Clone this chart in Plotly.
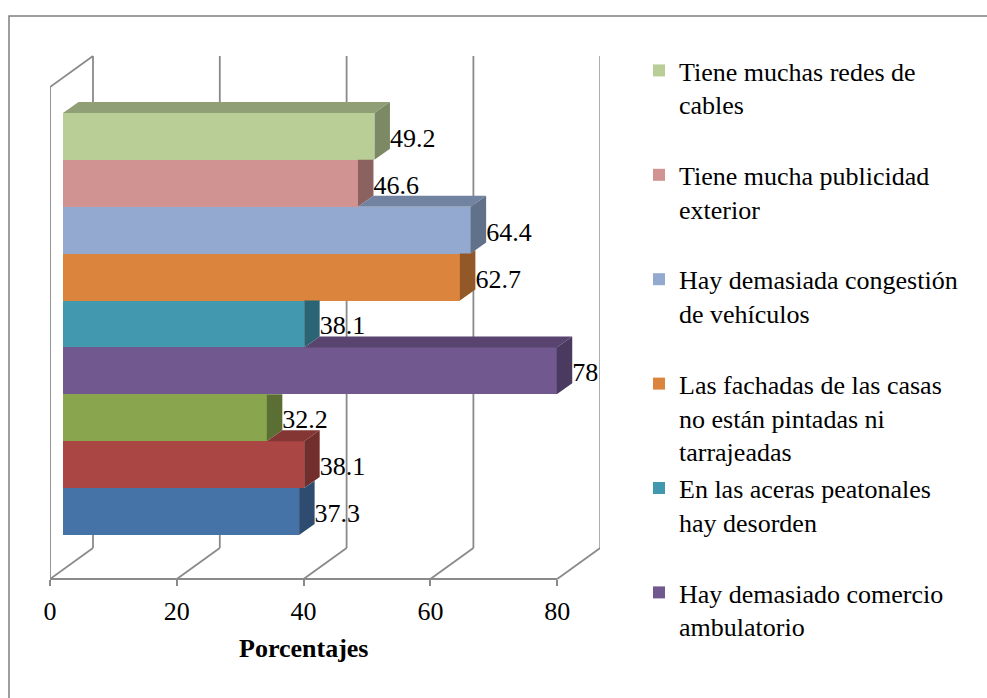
import plotly.graph_objects as go

# ---------------- data (top bar first, as in the legend) ----------------
categories = [
    "Tiene muchas redes de cables",
    "Tiene mucha publicidad exterior",
    "Hay demasiada congestión de vehículos",
    "Las fachadas de las casas no están pintadas ni tarrajeadas",
    "En las aceras peatonales hay desorden",
    "Hay demasiado comercio ambulatorio",
    "Serie 7",
    "Serie 8",
    "Serie 9",
]
legend_labels = [
    "Tiene muchas redes de<br>cables<br>\u00a0",
    "Tiene mucha publicidad<br>exterior<br>\u00a0",
    "Hay demasiada congestión<br>de vehículos<br>\u00a0",
    "Las fachadas de las casas<br>no están pintadas ni<br>tarrajeadas",
    "En las aceras peatonales<br>hay desorden<br>\u00a0",
    "Hay demasiado comercio<br>ambulatorio<br>\u00a0",
    "Serie 7", "Serie 8", "Serie 9",
]
values = [49.2, 46.6, 64.4, 62.7, 38.1, 78, 32.2, 38.1, 37.3]
colors = ["#B9CD96", "#D19392", "#93A9CF", "#DB843D", "#4198AF",
          "#71588F", "#89A54E", "#AA4643", "#4572A7"]
visible_in_legend = 6
tick_values = [0, 20, 40, 60, 80]
axis_title = "Porcentajes"

# ---------------- geometry (pixels of the 987x698 canvas) ----------------
W, H = 987, 698
PL, PR = 50, 600            # plot area, left/right (front plane value 0 at PL)
FLOOR, TOP = 579, 56        # front floor line / top of back wall
SX, SY = 6.34, 46.9         # px per value unit / per category
X_MAX = (PR - PL) / SX
Y_TOP = (FLOOR - TOP) / SY
DX, DY = 43 / SX, 31 / SY   # depth of the chart box
BX0, BSX, BOT0 = 63, 6.33, 535               # bar plane
x2_range = [(PL - BX0) / BSX, (PR - BX0) / BSX]
y2_range = [-0.5 - (H - BOT0) / SY, -0.5 + BOT0 / SY]
bdx, bdy = 15.5 / BSX, 11 / SY               # bar thickness
label_dy = 4 / SY                            # labels sit slightly low

FONT = "Liberation Serif, Times New Roman, serif"
GRID = "#8A8A8A"


def shade(hexcol, f):
    h = hexcol.lstrip("#")
    r, g, b = (int(h[i:i + 2], 16) for i in (0, 2, 4))
    return "rgb(%d,%d,%d)" % (r * f, g * f, b * f)


fig = go.Figure()
n = len(values)
ypos = [n - 1 - k for k in range(n)]

# front faces of the bars
for k in range(n):
    fig.add_trace(go.Bar(
        x=[values[k]], y=[ypos[k]], orientation="h", width=1,
        name=legend_labels[k], showlegend=k < visible_in_legend,
        marker=dict(color=colors[k], line=dict(width=0)),
        xaxis="x2", yaxis="y2", hoverinfo="x",
    ))

# visible parts of the top and right faces
for k in range(n):
    v = values[k]
    i = ypos[k]
    T, B = i + 0.5, i - 0.5
    vn = values[k - 1] if k > 0 else None
    a = 0 if vn is None else (vn if vn < v else None)
    if a is not None:
        fig.add_trace(go.Scatter(
            x=[a, v, v + bdx, a + bdx, a], y=[T, T, T + bdy, T + bdy, T],
            mode="lines", line=dict(width=0), fill="toself",
            fillcolor=shade(colors[k], 0.78), showlegend=False,
            hoverinfo="skip", xaxis="x2", yaxis="y2"))
    if vn is None or vn < v:
        px = [v, v, v + bdx, v + bdx, v]
        py = [B, T, T + bdy, B + bdy, B]
    elif vn < v + bdx:
        px = [v, v, vn, v + bdx, v + bdx, v]
        py = [B, T, T, T + (v + bdx - vn) * bdy / bdx, B + bdy, B]
    else:
        px = [v, v, v + bdx, v + bdx, v]
        py = [B, T, T, B + bdy, B]
    fig.add_trace(go.Scatter(
        x=px, y=py, mode="lines", line=dict(width=0), fill="toself",
        fillcolor=shade(colors[k], 0.67), showlegend=False,
        hoverinfo="skip", xaxis="x2", yaxis="y2"))

# data labels
fig.add_trace(go.Scatter(
    x=[v + bdx for v in values], y=[p - label_dy for p in ypos], mode="text",
    text=[f"{v:g}" for v in values], textposition="middle right",
    textfont=dict(family=FONT, size=26, color="black"),
    showlegend=False, hoverinfo="skip", xaxis="x2", yaxis="y2"))

# walls / floor gridlines
shapes = []
def seg(x0, y0, x1, y1):
    shapes.append(dict(type="line", xref="x", yref="y", x0=x0, y0=y0,
                       x1=x1, y1=y1, line=dict(color=GRID, width=1.8),
                       layer="below"))

seg(tick_values[0], 0, tick_values[-1], 0)
seg(0, 0, 0, Y_TOP - DY)
seg(0, Y_TOP - DY, DX, Y_TOP)
for t in tick_values:
    seg(t, 0, t + DX, DY)
    seg(t + DX, DY, t + DX, Y_TOP)

# outer frame of the picture
pw = PR - PL
shapes.append(dict(type="rect", xref="paper", yref="paper",
                   x0=(9 - PL) / pw, x1=(W + 20 - PL) / pw,
                   y0=-0.05, y1=(H - 16) / H,
                   line=dict(color="#7F7F7F", width=1.5), layer="below"))

fig.update_layout(
    width=W, height=H,
    margin=dict(l=PL, r=W - PR, t=0, b=0, pad=0),
    paper_bgcolor="white", plot_bgcolor="rgba(0,0,0,0)",
    barmode="overlay", bargap=0,
    shapes=shapes,
    showlegend=True,
    legend=dict(
        x=(639 - PL) / pw, y=(H - 47) / H, xanchor="left", yanchor="top",
        valign="top", traceorder="normal", itemwidth=30,
        font=dict(family=FONT, size=26, color="black"),
        bgcolor="rgba(0,0,0,0)", itemclick=False, itemdoubleclick=False,
    ),
    xaxis=dict(range=[0, X_MAX], tickvals=tick_values, ticks="outside",
               ticklen=6, tickwidth=1.5, tickcolor=GRID, showgrid=False,
               zeroline=False, showline=False, ticklabelstandoff=3,
               anchor="free", position=(H - FLOOR) / H,
               tickfont=dict(family=FONT, size=26, color="black"),
               fixedrange=True),
    yaxis=dict(range=[(FLOOR - H) / SY, FLOOR / SY], domain=[0, 1],
               visible=False, fixedrange=True),
    xaxis2=dict(range=x2_range, overlaying="x", anchor="y2", visible=False,
                fixedrange=True),
    yaxis2=dict(range=y2_range, overlaying="y", anchor="x2", visible=False,
                fixedrange=True),
    annotations=[dict(
        text="<b>%s</b>" % axis_title, x=40, xref="x",
        y=(H - 648) / H, yref="paper", xanchor="center", yanchor="middle",
        showarrow=False, font=dict(family=FONT, size=26, color="black"))],
)

fig.write_html("out.html", config={"displayModeBar": False},
               post_script="document.body.style.margin='0px';")
